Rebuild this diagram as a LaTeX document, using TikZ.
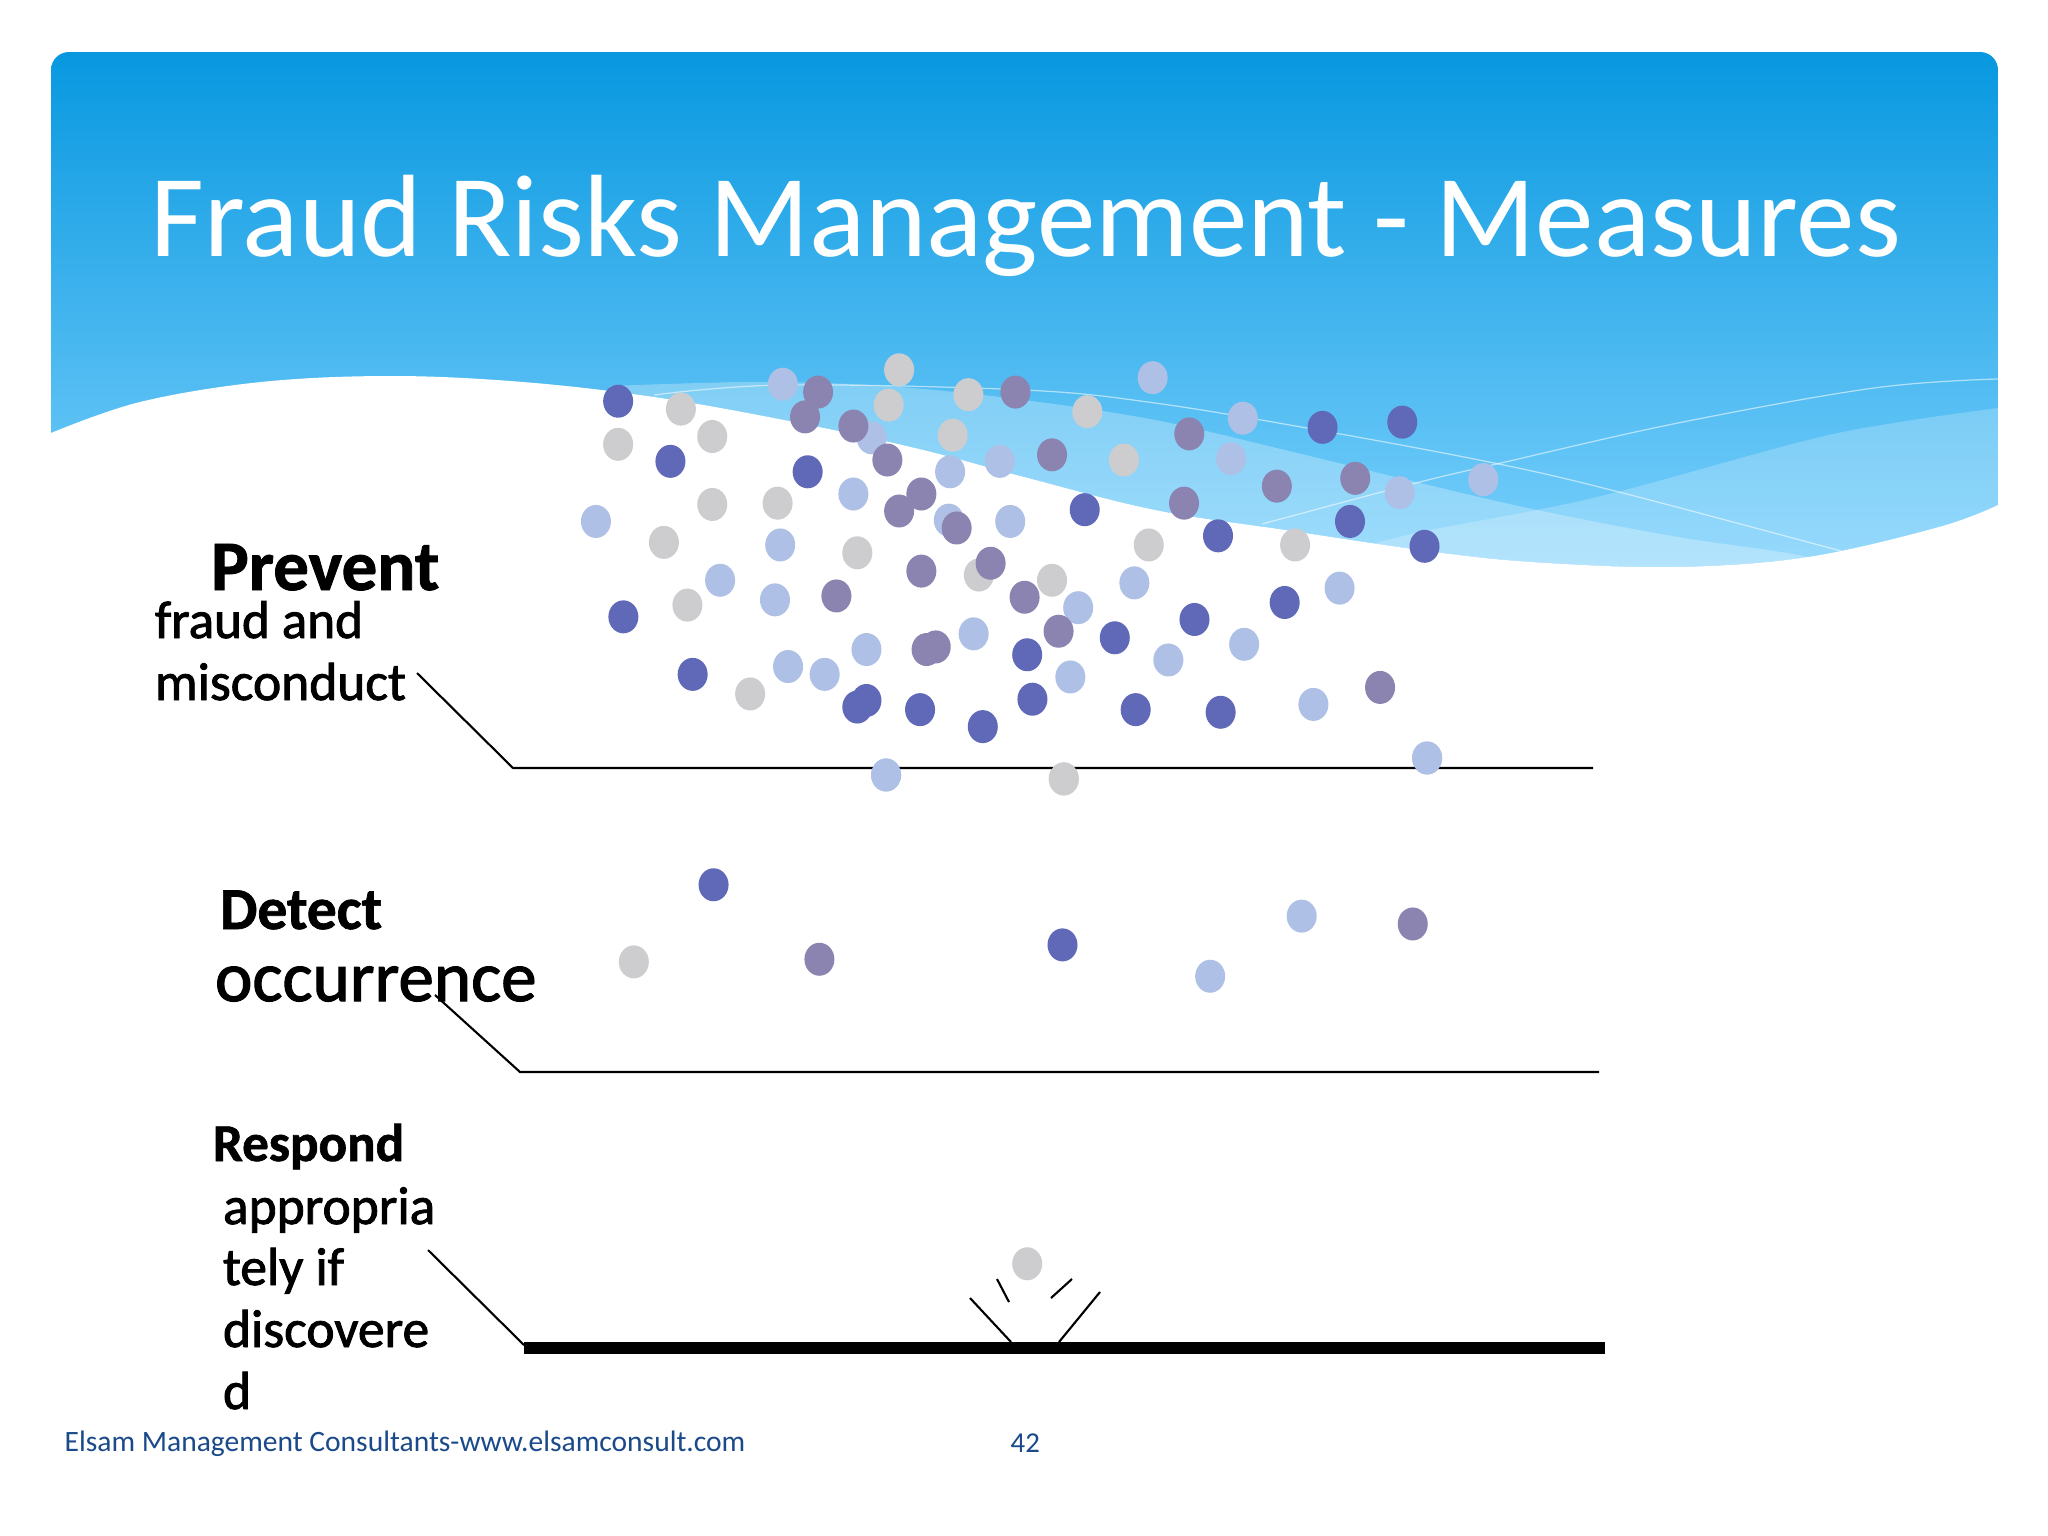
\documentclass[tikz,border=0pt]{standalone}
\usepackage{fontspec}
\setmainfont{Carlito}
\newfontfamily\heavyfont[FakeBold=1.6]{Carlito}
\newfontfamily\heavybold[FakeBold=1.2]{Carlito Bold}
\usetikzlibrary{shapes.geometric}
\definecolor{dotB}{HTML}{6068B8}
\definecolor{dotL}{HTML}{AEC0E6}
\definecolor{dotG}{HTML}{CDCDD0}
\definecolor{dotP}{HTML}{8C84B0}
\definecolor{foot}{HTML}{1A4A8A}
\tikzset{
 dotbase/.style={ellipse,inner sep=0pt,outer sep=0pt,minimum width=0.30cm,minimum height=0.33cm},
 label/.style={anchor=base west,inner sep=0pt,outer sep=0pt,text=black},
 leader/.style={draw=black,line width=0.6pt},
 wire/.style={draw=white,opacity=.55,line width=0.35pt},
}
\newcommand{\dotsof}[2]{\foreach \p/\q [count=\n] in {#2}{\node[dotbase,fill=dot#1] (d#1\n) at (\p,\q) {};}}
\def\wavepts{(51,433)(140,402)(261,382)(392,376)(523,382)(654,397)(784,420)(915,448)(1024,477)(1155,510)(1285,530)(1442,553)(1547,563)(1678,567)(1808,557)(1939,527)(1998,505)}
\begin{document}
\begin{tikzpicture}[x=0.01cm,y=-0.01cm]
\useasboundingbox (0,0) rectangle (2048,1536);
\fill[white] (0,0) rectangle (2048,1536);
% header
\begin{scope}
\clip[rounded corners=0.18cm] (51,52) rectangle (1998,700);
\shade[top color={rgb,255:red,8;green,152;blue,224},bottom color={rgb,255:red,122;green,208;blue,252}]
 (51,52) rectangle (1998,567);
\fill[white] (40,700) -- (40,440) -- plot[smooth,tension=.6] coordinates{\wavepts} -- (2010,495) -- (2010,700) -- cycle;
\path[clip] (40,52) -- (40,440) -- plot[smooth,tension=.6] coordinates{\wavepts} -- (2010,495) -- (2010,52) -- cycle;
\fill[white,opacity=.28] (610,700) -- plot[smooth,tension=.6] coordinates{(610,386)(700,383)(784,382)(900,387)(1024,400)(1155,420)(1285,450)(1416,482)(1537,510)(1678,537)(1808,557)(1900,585)} -- (1900,700) -- cycle;
\fill[white,opacity=.22] (1330,700) -- plot[smooth,tension=.6] coordinates{(1330,556)(1416,533)(1537,510)(1625,490)(1808,440)(1900,422)(1998,408)} -- (2010,406) -- (2010,700) -- cycle;
\end{scope}
\draw[wire] plot[smooth,tension=.6] coordinates{(654,395)(784,385)(1024,390)(1155,403)(1318,430)(1494,463)(1619,492)(1841,551)};
\draw[wire] plot[smooth,tension=.6] coordinates{(1262,524)(1416,483)(1501,463)(1678,423)(1874,388)(1998,379)};
% dots
\begin{scope}[x=0.013057cm,y=-0.013055cm]
\dotsof{G}{688/283,741/302,680/310,729/333,832/315,860/352,521/313,545/334,473/340,545/386,595/385,508/415,656/423,526/463,574/531,749/440,805/444,879/417,991/417,814/596,485/736,786/967}
\dotsof{L}{599/294,667/335,653/378,727/361,765/353,726/398,773/399,456/399,597/417,551/444,593/459,663/497,603/510,631/516,745/485,825/465,868/446,882/289,951/320,942/351,1071/377,1135/367,1025/450,952/493,894/505,819/518,1005/539,678/593,1092/580,996/701,926/747}
\dotsof{B}{473/307,513/353,618/361,477/472,530/516,663/536,656/541,704/543,752/556,790/535,786/501,830/390,932/410,1012/327,1073/323,1033/399,1090/418,983/461,914/474,853/488,869/543,934/545,546/677,813/723}
\dotsof{P}{626/300,616/319,653/326,679/352,777/300,805/348,910/332,906/385,977/372,1037/366,705/378,688/391,732/404,705/437,640/456,758/431,784/457,810/483,716/495,709/497,1056/526,627/734,1081/707}
\end{scope}
% title
\node[anchor=base west,inner sep=0,text=white] (title) at (150,256) {\fontsize{33.3}{36}\selectfont Fraud Risks Management - Measures};
% labels
\node[label] (prevent) at (211,590) {\heavybold\fontsize{20.2}{22}\selectfont Prevent};
\node[label] (fraud) at (155,638) {\heavyfont\fontsize{15.1}{17}\selectfont fraud and};
\node[label] (misc) at (155,700) {\heavyfont\fontsize{15.2}{17}\selectfont misconduct};
\node[label] (detect) at (220,929) {\heavybold\fontsize{16.9}{18}\selectfont Detect};
\node[label] (occ) at (215,1001) {\heavyfont\fontsize{20.2}{22}\selectfont occurrence};
\node[label] (respond) at (213,1161) {\heavybold\fontsize{15.1}{17}\selectfont Respond};
\node[label] (app) at (223,1224) {\heavyfont\fontsize{15.2}{17}\selectfont appropria};
\node[label] (tely) at (223,1285) {\heavyfont\fontsize{15.2}{17}\selectfont tely if};
\node[label] (disc) at (223,1347) {\heavyfont\fontsize{15.2}{17}\selectfont discovere};
\node[label] (dd) at (223,1409) {\heavyfont\fontsize{15.2}{17}\selectfont d};
\node[anchor=base west,inner sep=0,text=foot] (footer) at (64,1451) {\fontsize{8.4}{10}\selectfont Elsam Management Consultants-www.elsamconsult.com};
\node[anchor=base west,inner sep=0,text=foot] (pageno) at (1010,1452) {\fontsize{8.2}{10}\selectfont 42};
% leaders
\coordinate (a1) at (417,673); \coordinate (a2) at (513,768); \coordinate (a3) at (1593,768);
\coordinate (b1) at (435,995); \coordinate (b2) at (520,1072); \coordinate (b3) at (1599,1072);
\coordinate (c1) at (428,1250); \coordinate (c2) at (524,1345); \coordinate (c3) at (524,1348); \coordinate (c4) at (1605,1348);
\coordinate (s1) at (970,1298); \coordinate (s2) at (1011,1342);
\coordinate (s3) at (997,1279); \coordinate (s4) at (1009,1302);
\coordinate (s5) at (1072,1279); \coordinate (s6) at (1051,1298);
\coordinate (s7) at (1100,1292); \coordinate (s8) at (1059,1342);
\draw[leader] (a1) -- (a2) -- (a3);
\draw[leader] (b1) -- (b2) -- (b3);
\draw[leader] (c1) -- (c2);
\draw[draw=black,line width=3.4pt] (c3) -- (c4);
\draw[leader] (s1) -- (s2);
\draw[leader] (s3) -- (s4);
\draw[leader] (s5) -- (s6);
\draw[leader] (s7) -- (s8);
% dots over horizontal lines
\begin{scope}[x=0.013057cm,y=-0.013055cm]
\node[dotbase,fill=dotL] (over1) at (678,593) {};
\node[dotbase,fill=dotL] (over2) at (1092,580) {};
\node[dotbase,fill=dotG] (over3) at (814,596) {};
\end{scope}
\end{tikzpicture}
\end{document}
